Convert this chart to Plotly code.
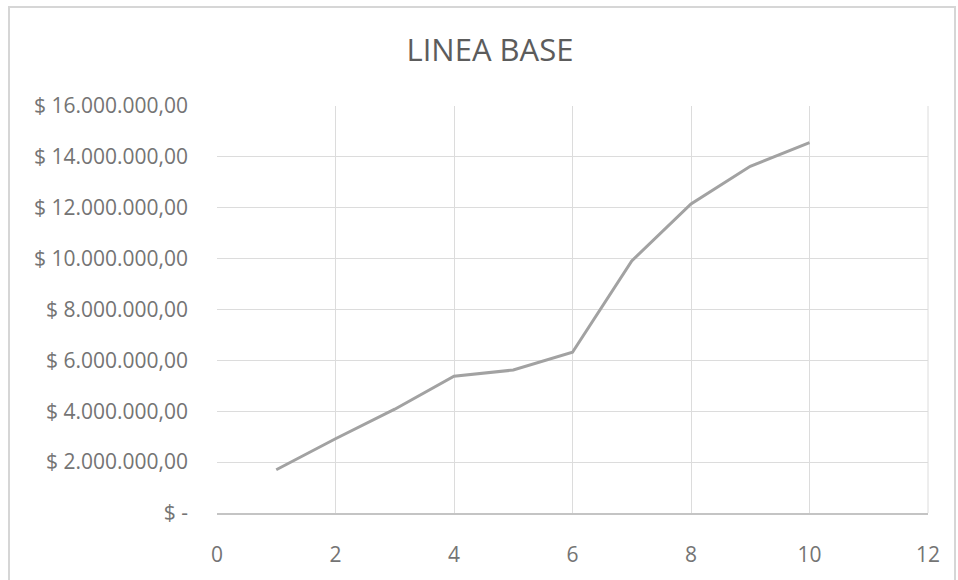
import plotly.graph_objects as go

# Cumulative baseline cost per period
periodos = [1, 2, 3, 4, 5, 6, 7, 8, 9, 10]
costo_acumulado = [1700000, 2920000, 4080000, 5380000, 5620000,
                   6320000, 9910000, 12150000, 13630000, 14560000]

# Axis ticks
x_ticks = [0, 2, 4, 6, 8, 10, 12]
y_ticks = [0, 2000000, 4000000, 6000000, 8000000, 10000000,
           12000000, 14000000, 16000000]
y_tick_text = ["$ -", "$ 2.000.000,00", "$ 4.000.000,00", "$ 6.000.000,00",
               "$ 8.000.000,00", "$ 10.000.000,00", "$ 12.000.000,00",
               "$ 14.000.000,00", "$ 16.000.000,00"]

W, H = 958, 580
ML, MR, MT, MB = 217, 30, 106, 59
PW, PH = W - ML - MR, H - MT - MB

TEXT = "#747474"
GRID = "#dcdcdc"
FONT = "Open Sans, Liberation Sans, sans-serif"

fig = go.Figure()
fig.add_trace(go.Scatter(
    x=periodos, y=costo_acumulado, mode="lines",
    line=dict(color="#a2a2a2", width=3),
    hoverinfo="x+y", showlegend=False,
))


def px_x(p):
    return (p - ML) / PW


def px_y(p):
    return (H - MB - p) / PH


fig.update_layout(
    width=W, height=H,
    margin=dict(l=ML, r=MR, t=MT, b=MB, pad=0),
    paper_bgcolor="white", plot_bgcolor="white",
    title=dict(text="LINEA BASE", x=490 / W, xanchor="center",
               y=1 - 50 / H, yanchor="middle",
               font=dict(family=FONT, size=31, color="#5c5c5c")),
    font=dict(family=FONT, color=TEXT),
    xaxis=dict(range=[0, 12], tickvals=x_ticks, ticktext=[str(v) for v in x_ticks],
               showgrid=True, gridcolor=GRID, gridwidth=1,
               showline=True, linecolor="#c4c4c4", linewidth=2,
               zeroline=False, ticks="", ticklabelstandoff=22,
               tickfont=dict(family=FONT, size=21, color=TEXT), fixedrange=True),
    yaxis=dict(range=[0, 16000000], tickvals=y_ticks, ticktext=y_tick_text,
               showgrid=True, gridcolor=GRID, gridwidth=1,
               showline=False, zeroline=False, ticks="", ticklabelstandoff=28,
               tickfont=dict(family=FONT, size=21, color=TEXT), fixedrange=True),
    shapes=[
        # outer chart frame
        dict(type="rect", xref="paper", yref="paper",
             x0=px_x(9), x1=px_x(955), y0=px_y(592), y1=px_y(5),
             line=dict(color="#d6d6d6", width=2), fillcolor="rgba(0,0,0,0)",
             layer="below"),
        # right edge of plot area
        dict(type="line", xref="paper", yref="paper",
             x0=1, x1=1, y0=0, y1=1, line=dict(color=GRID, width=1)),
    ],
)

fig.write_html("out.html")
